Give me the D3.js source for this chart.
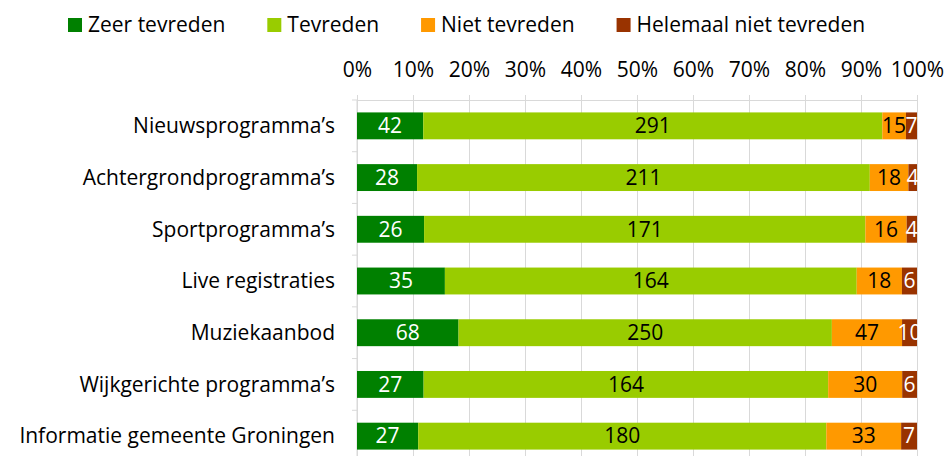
<!DOCTYPE html>
<html>
<head>
<meta charset="utf-8">
<script src="https://cdn.jsdelivr.net/npm/d3@7"></script>
<style>
  body { margin: 0; background: #fff; }
  svg { display: block; font-family: 'Open Sans', sans-serif; }
</style>
</head>
<body>
<div id="chart"></div>
<script>
// Chart data
const categories = [
  'Nieuwsprogramma’s',
  'Achtergrondprogramma’s',
  'Sportprogramma’s',
  'Live registraties',
  'Muziekaanbod',
  'Wijkgerichte programma’s',
  'Informatie gemeente Groningen'
];
const seriesNames = ['Zeer tevreden', 'Tevreden', 'Niet tevreden', 'Helemaal niet tevreden'];
const zeerTevreden = [42, 28, 26, 35, 68, 27, 27];
const tevreden = [291, 211, 171, 164, 250, 164, 180];
const nietTevreden = [15, 18, 16, 18, 47, 30, 33];
const helemaalNiet = [7, 4, 4, 6, 10, 6, 7];
const tickValues = [0, 0.1, 0.2, 0.3, 0.4, 0.5, 0.6, 0.7, 0.8, 0.9, 1];

const colors = ['#008000', '#99cc00', '#ff9900', '#993300'];
const labelColors = ['#ffffff', '#000000', '#000000', '#ffffff'];

const width = 949;
const height = 456;
const margin = { top: 100, right: 32, bottom: -6, left: 357 };
const fontSize = 21;

// Build rows for the stack
const rows = categories.map((c, i) => {
  const vals = [zeerTevreden[i], tevreden[i], nietTevreden[i], helemaalNiet[i]];
  const total = d3.sum(vals);
  const row = { category: c, total };
  seriesNames.forEach((s, j) => { row[s] = vals[j] / total; row[s + '_raw'] = vals[j]; });
  return row;
});

const stacked = d3.stack().keys(seriesNames)(rows);

const x = d3.scaleLinear()
  .domain([0, 1])
  .range([margin.left, width - margin.right]);

const y = d3.scaleBand()
  .domain(categories)
  .range([margin.top, height - margin.bottom])
  .paddingInner(0.48)
  .paddingOuter(0.24);

const svg = d3.select('#chart')
  .append('svg')
  .attr('width', width)
  .attr('height', height);

// Vertical gridlines
svg.append('g')
  .attr('class', 'grid')
  .attr('transform', `translate(0, ${margin.top})`)
  .call(d3.axisBottom(x).tickValues(tickValues).tickFormat('').tickSize(height - margin.top + 10))
  .call(g => g.select('.domain').remove())
  .call(g => g.selectAll('line').attr('stroke', '#d9d9d9').attr('stroke-width', 1));

// Top axis
svg.append('g')
  .attr('transform', `translate(0, ${margin.top})`)
  .call(d3.axisTop(x).tickValues(tickValues).tickFormat(d3.format('.0%')).tickSize(5).tickPadding(18))
  .call(g => g.select('.domain').attr('stroke', '#d9d9d9'))
  .call(g => g.selectAll('line').attr('stroke', '#d9d9d9'))
  .call(g => g.selectAll('text')
    .attr('font-family', 'Open Sans, sans-serif')
    .attr('font-size', fontSize)
    .attr('fill', '#000'));

// Left axis: line with ticks between categories
const step = y.step();
const boundaries = d3.range(categories.length + 1).map(i => margin.top + i * step);
const leftAxis = svg.append('g').attr('class', 'left-axis');
leftAxis.append('line')
  .attr('x1', margin.left).attr('x2', margin.left)
  .attr('y1', margin.top).attr('y2', height)
  .attr('stroke', '#d9d9d9');
leftAxis.selectAll('.btick')
  .data(boundaries)
  .join('line')
  .attr('class', 'btick')
  .attr('x1', margin.left - 5).attr('x2', margin.left)
  .attr('y1', d => d).attr('y2', d => d)
  .attr('stroke', '#d9d9d9');

// Category labels
svg.append('g')
  .selectAll('text')
  .data(categories)
  .join('text')
  .attr('x', margin.left - 22)
  .attr('y', d => y(d) + y.bandwidth() / 2)
  .attr('dy', '0.35em')
  .attr('text-anchor', 'end')
  .attr('font-size', fontSize)
  .attr('fill', '#000')
  .text(d => d);

// Bars
const layers = svg.append('g')
  .selectAll('g')
  .data(stacked)
  .join('g')
  .attr('fill', (d, i) => colors[i]);

layers.selectAll('rect')
  .data(d => d)
  .join('rect')
  .attr('x', d => x(d[0]))
  .attr('y', d => y(d.data.category))
  .attr('width', d => x(d[1]) - x(d[0]))
  .attr('height', y.bandwidth());

// Data labels
svg.append('g')
  .selectAll('g')
  .data(stacked)
  .join('g')
  .attr('fill', (d, i) => labelColors[i])
  .each(function(layer) {
    d3.select(this).selectAll('text')
      .data(layer)
      .join('text')
      .attr('x', d => (x(d[0]) + x(d[1])) / 2)
      .attr('y', d => y(d.data.category) + y.bandwidth() / 2)
      .attr('dy', '0.35em')
      .attr('text-anchor', 'middle')
      .attr('font-size', fontSize)
      .text(d => d.data[layer.key + '_raw']);
  });

// Legend
const legend = svg.append('g').attr('class', 'legend');
let lx = 68;
seriesNames.forEach((name, i) => {
  const item = legend.append('g').attr('transform', `translate(${lx}, 0)`);
  item.append('rect')
    .attr('x', 0).attr('y', 18)
    .attr('width', 14).attr('height', 14)
    .attr('fill', colors[i]);
  const t = item.append('text')
    .attr('x', 20).attr('y', 25)
    .attr('dy', '0.35em')
    .attr('font-size', fontSize)
    .attr('fill', '#000')
    .text(name);
  lx += 20 + t.node().getComputedTextLength() + 42;
});
</script>
</body>
</html>
